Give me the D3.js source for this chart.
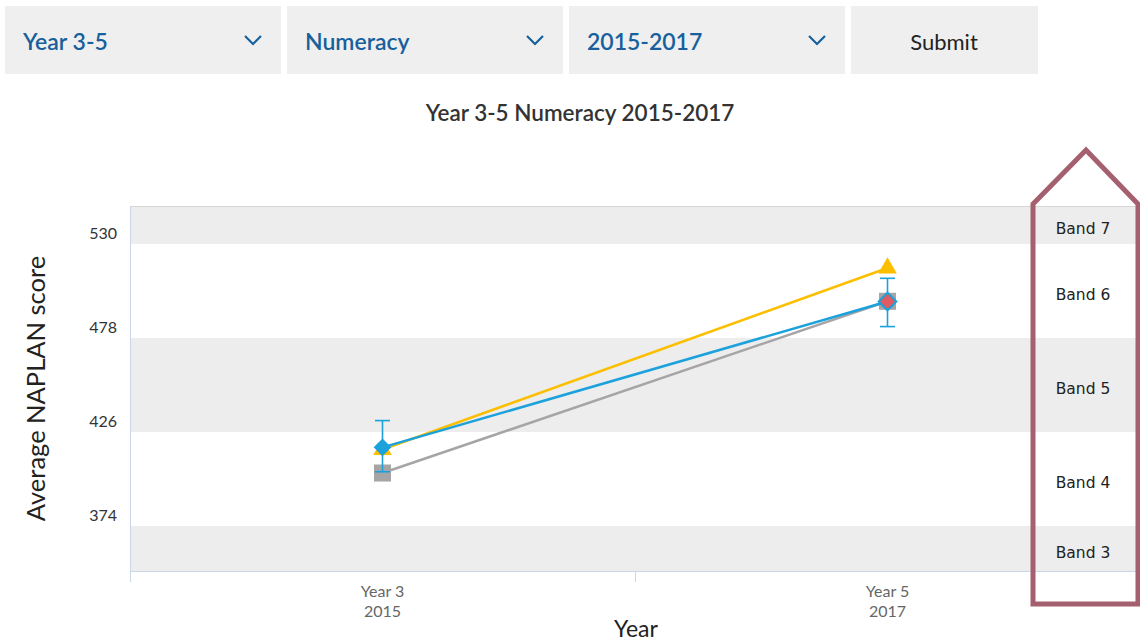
<!DOCTYPE html>
<html>
<head>
<meta charset="utf-8">
<script src="https://cdn.jsdelivr.net/npm/d3@7"></script>
<style>
  body { margin: 0; background: #fff; font-family: Lato, sans-serif; }
  svg { display: block; }
</style>
</head>
<body>
<svg id="chart" width="1140" height="643"></svg>
<script>
// Filter controls on top
const filters = ['Year 3-5', 'Numeracy', '2015-2017'];
const submitLabel = 'Submit';
const chartTitle = 'Year 3-5 Numeracy 2015-2017';

// Categories on the x axis
const yearLevels = ['Year 3', 'Year 5'];
const testYears = ['2015', '2017'];

// Series values (average NAPLAN score)
const schoolScores = [417.5, 498.2];   // blue
const similarScores = [416.3, 516.7];  // yellow
const stateScores = [403.3, 498.3];    // grey
const errorLow = [404.0, 484.3];
const errorHigh = [432.3, 511.0];

// Y ticks and NAPLAN bands
const yTicks = [374, 426, 478, 530];
const bandNames = ['Band 3', 'Band 4', 'Band 5', 'Band 6', 'Band 7'];
const bandFrom = [322, 374, 426, 478, 530];
const bandTo = [374, 426, 478, 530, 582];

const svg = d3.select('#chart');

// ---- filter bar ----
const boxX = [5, 287, 569];
filters.forEach((f, i) => {
    const g = svg.append('g').attr('transform', `translate(${boxX[i]},6)`);
    g.append('rect').attr('width', 276).attr('height', 68).attr('fill', '#efefef');
    g.append('text').attr('x', 18).attr('y', 35)
        .attr('dominant-baseline', 'central')
        .attr('font-size', 23).attr('font-weight', 600)
        .attr('fill', '#17609c').text(f);
    g.append('path').attr('d', 'M240,30 L248,38 L256,30')
        .attr('fill', 'none').attr('stroke', '#17609c').attr('stroke-width', 2.2);
});
svg.append('rect').attr('x', 851).attr('y', 6).attr('width', 187).attr('height', 68).attr('fill', '#efefef');
svg.append('text').attr('x', 944).attr('y', 41)
    .attr('text-anchor', 'middle').attr('dominant-baseline', 'central')
    .attr('font-size', 22).attr('fill', '#222').text(submitLabel);

// ---- title ----
svg.append('text').attr('x', 580).attr('y', 112)
    .attr('text-anchor', 'middle').attr('dominant-baseline', 'central')
    .attr('font-size', 22.5).attr('font-weight', 600).attr('fill', '#333')
    .text(chartTitle);

// ---- scales ----
const plotLeft = 130, plotRight = 1140, plotTop = 206, plotBottom = 571;
const categories = yearLevels.map((d, i) => d + ' ' + testYears[i]);
const x = d3.scaleBand().domain(categories).range([plotLeft, plotRight]).padding(0);
const y = d3.scaleLinear().domain([349.1, 551]).range([plotBottom, plotTop]);
const cx = i => x(categories[i]) + x.bandwidth() / 2;

// bands
const bands = bandNames.map((n, i) => ({ name: n, from: bandFrom[i], to: bandTo[i], i }));
svg.append('g').selectAll('rect').data(bands).join('rect')
    .attr('x', plotLeft)
    .attr('y', d => y(Math.min(d.to, 551)))
    .attr('width', plotRight - plotLeft)
    .attr('height', d => y(Math.max(d.from, 349.1)) - y(Math.min(d.to, 551)))
    .attr('fill', d => d.i % 2 === 0 ? '#ededed' : '#ffffff');

// plot frame
svg.append('line').attr('x1', plotLeft).attr('x2', plotRight).attr('y1', plotTop + 0.5).attr('y2', plotTop + 0.5)
    .attr('stroke', '#d6d6d6');
svg.append('line').attr('x1', plotLeft + 0.5).attr('x2', plotLeft + 0.5).attr('y1', plotTop).attr('y2', plotBottom)
    .attr('stroke', '#ccd6eb');

// x axis
const xAxis = svg.append('g').attr('transform', `translate(0,${plotBottom})`);
xAxis.append('line').attr('x1', plotLeft).attr('x2', plotRight).attr('y1', 0.5).attr('y2', 0.5)
    .attr('stroke', '#ccd6eb');
const tickXs = categories.map(c => x(c)).concat([plotRight]);
xAxis.selectAll('.tick').data(tickXs).join('line')
    .attr('x1', d => d + 0.5).attr('x2', d => d + 0.5)
    .attr('y1', 0).attr('y2', 11).attr('stroke', '#ccd6eb');
categories.forEach((c, i) => {
    const t = xAxis.append('text').attr('text-anchor', 'middle')
        .attr('font-size', 16).attr('fill', '#666');
    t.append('tspan').attr('x', cx(i)).attr('y', 26).text(yearLevels[i]);
    t.append('tspan').attr('x', cx(i)).attr('y', 46).text(testYears[i]);
});
svg.append('text').attr('x', 636).attr('y', 628)
    .attr('text-anchor', 'middle').attr('dominant-baseline', 'central')
    .attr('font-size', 23).attr('fill', '#222').text('Year');

// y axis labels
svg.append('g').selectAll('text').data(yTicks).join('text')
    .attr('x', 117).attr('y', d => y(d) - 11)
    .attr('text-anchor', 'end').attr('dominant-baseline', 'central')
    .attr('font-size', 16).attr('fill', '#333')
    .text(d => d);
svg.append('text')
    .attr('transform', `translate(35,${(plotTop + plotBottom) / 2}) rotate(-90)`)
    .attr('text-anchor', 'middle').attr('dominant-baseline', 'central')
    .attr('font-size', 25.5).attr('fill', '#222').text('Average NAPLAN score');

// band labels
svg.append('g').selectAll('text').data(bands).join('text')
    .attr('x', 1083)
    .attr('y', d => (y(Math.min(d.to, 551)) + y(Math.max(d.from, 349.1))) / 2 + 4.5)
    .attr('text-anchor', 'middle').attr('dominant-baseline', 'central')
    .attr('font-family', 'DejaVu Sans, sans-serif').attr('font-size', 15.5).attr('fill', '#222')
    .text(d => d.name);

// ---- series ----
const line = d3.line().x((d, i) => cx(i)).y(d => y(d));

// grey series
svg.append('path').datum(stateScores).attr('d', line)
    .attr('fill', 'none').attr('stroke', '#a5a5a5').attr('stroke-width', 2.5);
stateScores.forEach((v, i) => {
    svg.append('rect').attr('x', cx(i) - 8.5).attr('y', y(v) - 8.5)
        .attr('width', 17).attr('height', 17).attr('fill', '#a5a5a5');
});

// error bars
const eb = svg.append('g').attr('stroke', '#1ba1dc').attr('stroke-width', 1.6);
errorLow.forEach((lo, i) => {
    const hi = errorHigh[i];
    eb.append('line').attr('x1', cx(i)).attr('x2', cx(i)).attr('y1', y(hi)).attr('y2', y(lo));
    eb.append('line').attr('x1', cx(i) - 7.5).attr('x2', cx(i) + 7.5).attr('y1', y(hi)).attr('y2', y(hi));
    eb.append('line').attr('x1', cx(i) - 7.5).attr('x2', cx(i) + 7.5).attr('y1', y(lo)).attr('y2', y(lo));
});

// yellow series
svg.append('path').datum(similarScores).attr('d', line)
    .attr('fill', 'none').attr('stroke', '#fcbf00').attr('stroke-width', 2.5);
const tri = d3.symbol().type(d3.symbolTriangle).size(150);
similarScores.forEach((v, i) => {
    svg.append('path').attr('d', tri)
        .attr('transform', `translate(${cx(i)},${y(v)})`)
        .attr('fill', '#fcbf00');
});

// blue series
svg.append('path').datum(schoolScores).attr('d', line)
    .attr('fill', 'none').attr('stroke', '#1ba1dc').attr('stroke-width', 2.5);
const diamond = d3.symbol().type(d3.symbolDiamond2).size(200);
schoolScores.forEach((v, i) => {
    const last = i === schoolScores.length - 1;
    svg.append('path').attr('d', diamond)
        .attr('transform', `translate(${cx(i)},${y(v)})`)
        .attr('fill', last ? '#e05c63' : '#1ba1dc')
        .attr('stroke', '#1ba1dc').attr('stroke-width', last ? 2 : 0);
});

// highlight outline around the band labels
const ol = [[1033, 604], [1033, 204], [1086, 150], [1138, 204], [1138, 604]];
svg.append('path').attr('d', d3.line()(ol) + 'Z')
    .attr('fill', 'none').attr('stroke', '#a5606f').attr('stroke-width', 5)
    .attr('stroke-linejoin', 'miter');
</script>
</body>
</html>
